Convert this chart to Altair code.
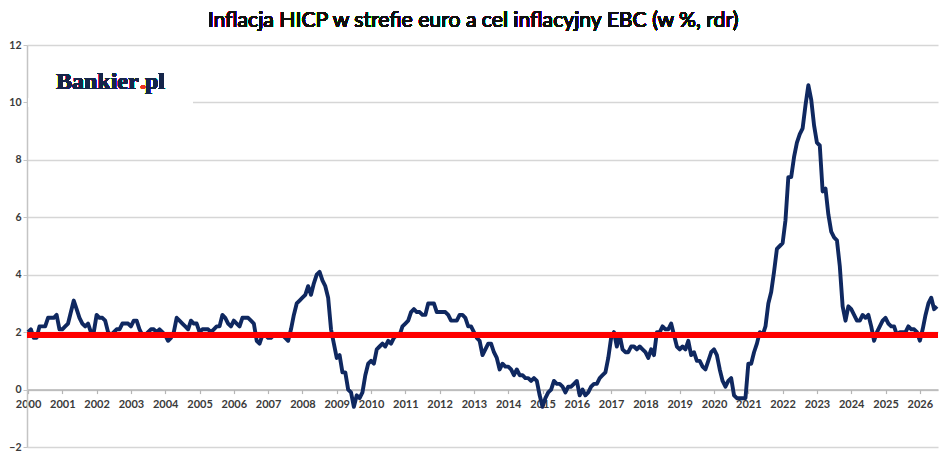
import altair as alt
import pandas as pd

chart_title = "Inflacja HICP w strefie euro a cel inflacyjny EBC (w %, rdr)"
logo_main = "Bankier"
logo_dot = "."
logo_tail = "pl"

first_year = 2000
ecb_target = 1.9
year_ticks = list(range(2000, 2027))
value_ticks = [-2, 0, 2, 4, 6, 8, 10, 12]

# monthly HICP y/y, %
hicp_2000 = [2.0, 2.1, 1.8, 1.8, 2.2, 2.2, 2.2, 2.5, 2.5, 2.5, 2.6, 2.1]
hicp_2001 = [2.1, 2.2, 2.3, 2.7, 3.1, 2.8, 2.5, 2.3, 2.2, 2.3, 2.0, 2.0]
hicp_2002 = [2.6, 2.5, 2.5, 2.4, 2.0, 1.9, 2.0, 2.1, 2.1, 2.3, 2.3, 2.3]
hicp_2003 = [2.2, 2.4, 2.4, 2.1, 1.9, 1.9, 2.0, 2.1, 2.1, 2.0, 2.1, 2.0]
hicp_2004 = [1.9, 1.7, 1.8, 2.0, 2.5, 2.4, 2.3, 2.2, 2.1, 2.4, 2.3, 2.3]
hicp_2005 = [2.0, 2.1, 2.1, 2.1, 2.0, 2.1, 2.2, 2.2, 2.6, 2.5, 2.3, 2.2]
hicp_2006 = [2.4, 2.3, 2.2, 2.5, 2.5, 2.5, 2.4, 2.3, 1.7, 1.6, 1.9, 1.9]
hicp_2007 = [1.8, 1.8, 1.9, 1.9, 1.9, 1.9, 1.8, 1.7, 2.1, 2.6, 3.0, 3.1]
hicp_2008 = [3.2, 3.3, 3.6, 3.3, 3.7, 4.0, 4.1, 3.8, 3.6, 3.2, 2.1, 1.6]
hicp_2009 = [1.1, 1.2, 0.6, 0.6, 0.0, -0.1, -0.6, -0.2, -0.3, -0.1, 0.5, 0.9]
hicp_2010 = [1.0, 0.9, 1.4, 1.5, 1.6, 1.5, 1.7, 1.6, 1.8, 1.9, 1.9, 2.2]
hicp_2011 = [2.3, 2.4, 2.7, 2.8, 2.7, 2.7, 2.6, 2.6, 3.0, 3.0, 3.0, 2.7]
hicp_2012 = [2.7, 2.7, 2.7, 2.6, 2.4, 2.4, 2.4, 2.6, 2.6, 2.5, 2.2, 2.2]
hicp_2013 = [2.0, 1.8, 1.7, 1.2, 1.4, 1.6, 1.6, 1.3, 1.1, 0.7, 0.9, 0.8]
hicp_2014 = [0.8, 0.7, 0.5, 0.7, 0.5, 0.5, 0.4, 0.4, 0.3, 0.4, 0.3, -0.2]
hicp_2015 = [-0.6, -0.3, -0.1, 0.0, 0.3, 0.2, 0.2, 0.1, -0.1, 0.1, 0.1, 0.2]
hicp_2016 = [0.3, -0.2, 0.0, -0.2, -0.1, 0.1, 0.2, 0.2, 0.4, 0.5, 0.6, 1.1]
hicp_2017 = [1.8, 2.0, 1.5, 1.9, 1.4, 1.3, 1.3, 1.5, 1.5, 1.4, 1.5, 1.4]
hicp_2018 = [1.3, 1.1, 1.4, 1.2, 2.0, 2.0, 2.2, 2.1, 2.1, 2.3, 1.9, 1.5]
hicp_2019 = [1.4, 1.5, 1.4, 1.7, 1.2, 1.3, 1.0, 1.0, 0.8, 0.7, 1.0, 1.3]
hicp_2020 = [1.4, 1.2, 0.7, 0.3, 0.1, 0.3, 0.4, -0.2, -0.3, -0.3, -0.3, -0.3]
hicp_2021 = [0.9, 0.9, 1.3, 1.6, 2.0, 1.9, 2.2, 3.0, 3.4, 4.1, 4.9, 5.0]
hicp_2022 = [5.1, 5.9, 7.4, 7.4, 8.1, 8.6, 8.9, 9.1, 9.9, 10.6, 10.1, 9.2]
hicp_2023 = [8.6, 8.5, 6.9, 7.0, 6.1, 5.5, 5.3, 5.2, 4.3, 2.9, 2.4, 2.9]
hicp_2024 = [2.8, 2.6, 2.4, 2.4, 2.6, 2.5, 2.6, 2.2, 1.7, 2.0, 2.2, 2.4]
hicp_2025 = [2.5, 2.3, 2.2, 2.2, 1.9, 2.0, 2.0, 2.0, 2.2, 2.1, 2.1, 2.0]
hicp_2026 = [1.7, 2.1, 2.6, 3.0, 3.2, 2.8, 2.9]

yearly = [hicp_2000, hicp_2001, hicp_2002, hicp_2003, hicp_2004, hicp_2005,
          hicp_2006, hicp_2007, hicp_2008, hicp_2009, hicp_2010, hicp_2011,
          hicp_2012, hicp_2013, hicp_2014, hicp_2015, hicp_2016, hicp_2017,
          hicp_2018, hicp_2019, hicp_2020, hicp_2021, hicp_2022, hicp_2023,
          hicp_2024, hicp_2025, hicp_2026]

rows = []
for i, vals in enumerate(yearly):
    for m, v in enumerate(vals):
        rows.append({"t": first_year + i + m / 12.0, "v": v})
df = pd.DataFrame(rows)

W, H = 911, 402
label_font = "Lato"

x_enc = alt.X(
    "t:Q",
    scale=alt.Scale(domain=[1999.97, 2026.53], nice=False, zero=False),
    axis=alt.Axis(values=year_ticks, format="d", title=None, grid=False,
                  offset=-H * 2 / 14, domainColor="#b5b5b5", domainWidth=1.5,
                  tickColor="#b5b5b5", tickSize=4, tickWidth=1.2,
                  labelFont=label_font, labelFontWeight="bold", labelFontSize=11,
                  labelColor="#3a3a3a", labelPadding=5, labelFlush=False,
                  labelOverlap=False),
)
y_enc = alt.Y(
    "v:Q",
    scale=alt.Scale(domain=[-2, 12], nice=False, zero=False),
    axis=alt.Axis(values=value_ticks, title=None, grid=True, gridColor="#d6d6d6",
                  gridWidth=1.5, domainColor="#c4c4c4", domainWidth=1.5,
                  tickColor="#c4c4c4", tickSize=4, labelFont=label_font,
                  labelFontWeight="bold", labelFontSize=10.5, labelColor="#3a3a3a",
                  labelPadding=2),
)

line = alt.Chart(df).mark_line(color="#0f2860", strokeWidth=3.9,
                               strokeJoin="round").encode(x=x_enc, y=y_enc)

target = alt.Chart(df).mark_rule(color="#ff0000", strokeWidth=4.5).encode(
    y=alt.datum(ecb_target))

mask = alt.Chart(df).mark_rect(color="white").encode(
    x=alt.value(1), x2=alt.value(166), y=alt.value(53), y2=alt.value(62))

logo_a = alt.Chart(df).mark_text(text=logo_main, font="Liberation Serif",
                                 fontWeight="bold", fontSize=24, color="#15254a",
                                 align="left", baseline="alphabetic").encode(
    x=alt.value(29), y=alt.value(44))
logo_b = alt.Chart(df).mark_text(text=logo_dot, font="Liberation Serif",
                                 fontWeight="bold", fontSize=24, color="#e8321e",
                                 align="left", baseline="alphabetic").encode(
    x=alt.value(113), y=alt.value(44))
logo_c = alt.Chart(df).mark_text(text=logo_tail, font="Liberation Serif",
                                 fontWeight="bold", fontSize=24, color="#15254a",
                                 align="left", baseline="alphabetic").encode(
    x=alt.value(118), y=alt.value(44))

title = alt.Chart(df).mark_text(text=chart_title, font="Lato", fontWeight="normal",
                                fontSize=21.2, color="#111111", align="center",
                                baseline="alphabetic").encode(
    x=alt.value(446), y=alt.value(-18))

chart = alt.layer(line, target, mask, logo_a, logo_b, logo_c, title).properties(
    width=W, height=H, autosize="none",
    padding={"left": 19, "top": 37, "right": 2, "bottom": 8},
    background="white",
).configure_view(stroke=None)

chart.save("out.html", embed_options={"renderer": "svg", "actions": False})
